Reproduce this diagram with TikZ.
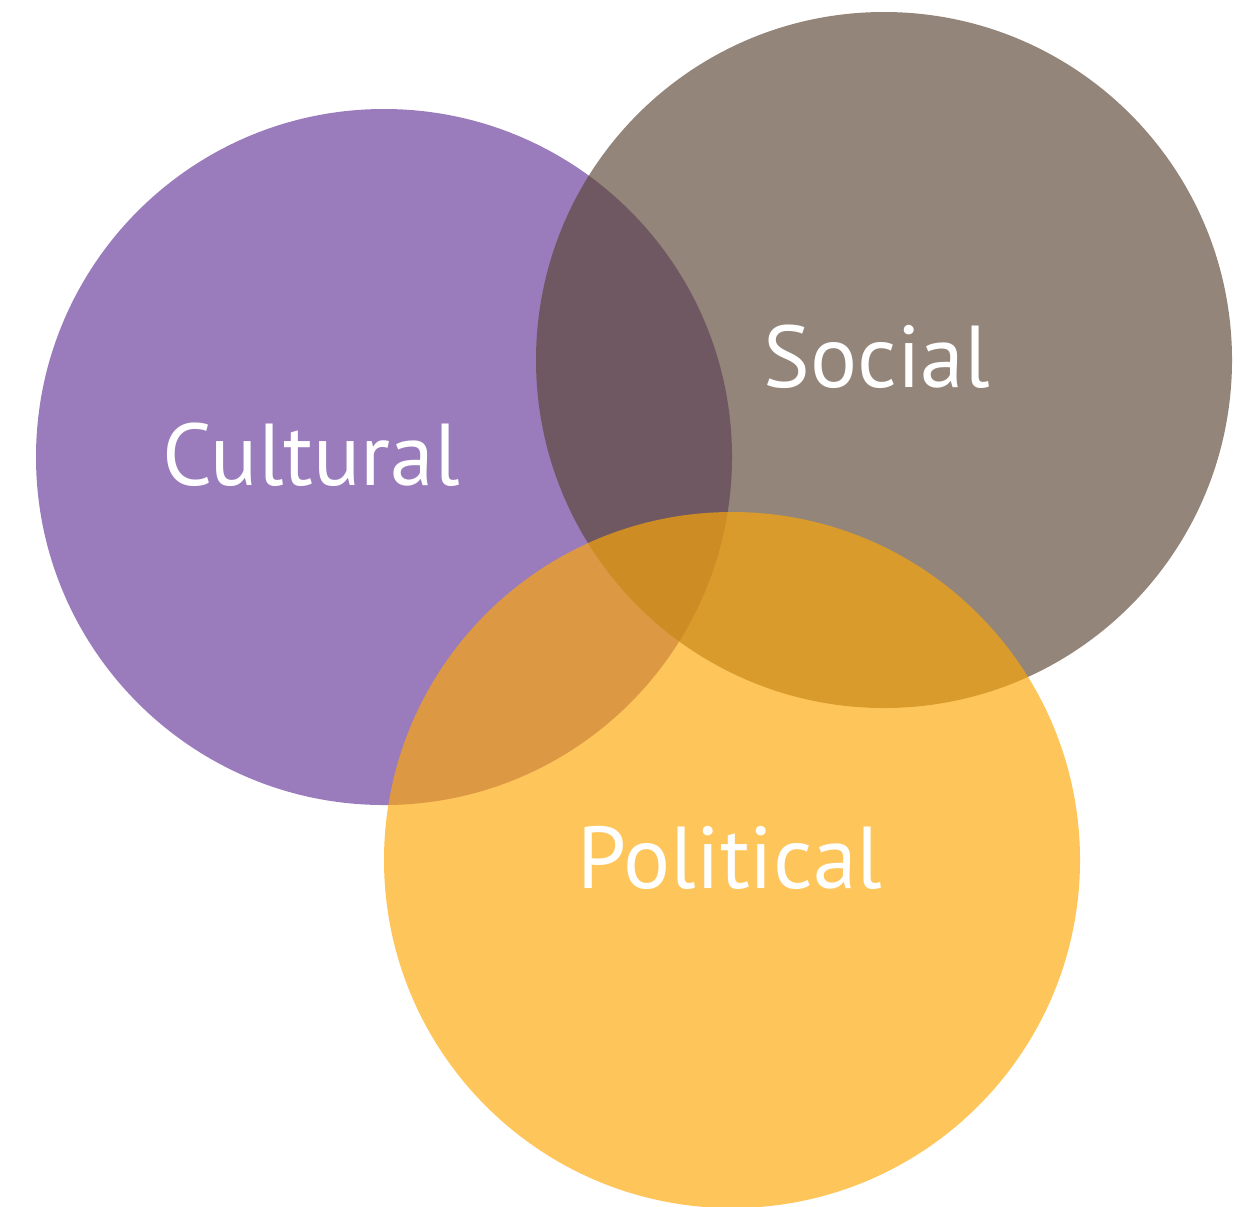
\documentclass[tikz,border=0pt]{standalone}
\usepackage{fontspec}
\setmainfont{PT Sans}
\definecolor{culturalpurple}{RGB}{102,55,152}
\definecolor{socialbrown}{RGB}{91,70,52}
\definecolor{politicalyellow}{RGB}{254,167,5}
\tikzset{
	sphere/.style={circle, minimum size=6.96cm, inner sep=0pt, fill opacity=0.66},
	label/.style={text=white, font=\fontsize{25}{30}\selectfont}
}
\begin{document}
\begin{tikzpicture}
	\useasboundingbox (0,0) rectangle (12.57,-12.06);
	\node (cultural) at (3.84,-4.57) [sphere, fill=culturalpurple] {};
	\node (social) at (8.84,-3.60) [sphere, fill=socialbrown] {};
	\node (political) at (7.32,-8.60) [sphere, fill=politicalyellow] {};
	\path node (culturaltext) at (3.11,-4.55) [label] {Cultural}
		  node (socialtext) at (8.77,-3.57) [label] {Social}
		  node (politicaltext) at (7.30,-8.58) [label] {Political};
\end{tikzpicture}
\end{document}
